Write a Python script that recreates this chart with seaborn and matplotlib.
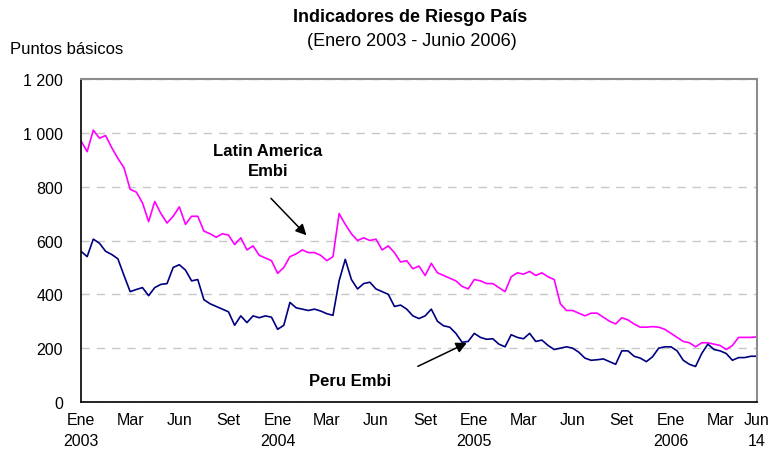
"""
Indicadores de Riesgo Pais: Latin America Embi vs Peru Embi (Ene 2003 - Jun 2006).
"""

import numpy as np
import pandas as pd
import matplotlib
matplotlib.use("Agg")
import matplotlib.pyplot as plt
import seaborn as sns

# ---------------------------------------------------------------------------
# Data (puntos basicos, ~8 obs per axis label)
# ---------------------------------------------------------------------------
LATAM = [970, 930, 1010, 980, 990, 945, 905, 870, 790, 780,
         740, 670, 745, 700, 665, 690, 725, 660, 690, 690,
         635, 625, 612, 625, 620, 585, 610, 565, 580, 545,
         535, 525, 478, 500, 540, 550, 565, 555, 555, 545,
         525, 540, 700, 660, 625, 600, 610, 600, 605, 565,
         580, 555, 520, 525, 495, 505, 470, 515, 480, 470,
         460, 450, 430, 420, 455, 450, 440, 440, 425, 410,
         465, 480, 475, 485, 470, 480, 465, 455, 365, 340,
         340, 330, 320, 330, 330, 315, 300, 290, 313, 305,
         290, 278, 278, 280, 278, 270, 255, 240, 225, 220,
         205, 220, 220, 215, 210, 195, 210, 240, 240, 240, 242]

PERU = [560, 540, 605, 590, 560, 548, 532, 470, 410, 418,
        425, 395, 425, 437, 440, 500, 510, 490, 450, 455,
        380, 365, 355, 345, 335, 285, 320, 295, 320, 313,
        320, 315, 270, 285, 370, 350, 345, 340, 345, 338,
        328, 322, 450, 530, 455, 420, 440, 445, 420, 410,
        400, 355, 360, 345, 320, 310, 320, 345, 300, 283,
        278, 255, 222, 225, 255, 240, 233, 235, 215, 205,
        250, 240, 235, 255, 225, 230, 210, 195, 200, 205,
        200, 185, 163, 155, 157, 160, 150, 140, 190, 190,
        170, 163, 150, 168, 200, 205, 205, 190, 155, 140,
        132, 180, 215, 195, 190, 180, 155, 165, 165, 170, 170]

X_TICKS  = [0, 8, 16, 24, 32, 40, 48, 56, 64, 72, 80, 88, 96, 104, 110]
X_LABELS = ["Ene\n2003", "Mar", "Jun", "Set", "Ene\n2004", "Mar", "Jun", "Set",
            "Ene\n2005", "Mar", "Jun", "Set", "Ene\n2006", "Mar", "Jun\n14"]
Y_TICKS  = [0, 200, 400, 600, 800, 1000, 1200]
Y_LABELS = ["0", "200", "400", "600", "800", "1 000", "1 200"]

COLORS = {"Latin America Embi": "#ff00ff", "Peru Embi": "#000080"}


def main():
    sns.set_style("white")
    plt.rcParams["font.family"] = ["Liberation Sans", "DejaVu Sans"]
    plt.rcParams["text.color"] = "black"
    plt.rcParams["xtick.color"] = "black"
    plt.rcParams["ytick.color"] = "black"
    plt.rcParams["xtick.labelcolor"] = "black"
    plt.rcParams["ytick.labelcolor"] = "black"

    df = pd.DataFrame({"obs": np.arange(len(LATAM)),
                       "Latin America Embi": LATAM,
                       "Peru Embi": PERU})
    long = df.melt(id_vars="obs", var_name="serie", value_name="pb")

    W, H = 776, 456
    fig = plt.figure(figsize=(W / 100, H / 100), dpi=100)
    ax = fig.add_axes([81 / W, 1 - 403 / H, 676 / W, 323 / H])

    sns.lineplot(data=long, x="obs", y="pb", hue="serie", palette=COLORS,
                 linewidth=1.2, legend=False, ax=ax)

    ax.set_xlim(0, len(LATAM) - 1)
    ax.set_ylim(0, 1200)
    ax.set_xticks(X_TICKS)
    ax.set_xticklabels(X_LABELS, linespacing=1.5)
    ax.set_yticks(Y_TICKS)
    ax.set_yticklabels(Y_LABELS)
    ax.set_xlabel("")
    ax.set_ylabel("")

    ax.yaxis.grid(True, linestyle=(0, (6, 5)), color="#c8c8c8", linewidth=1)
    ax.set_axisbelow(True)

    for side in ["left", "bottom"]:
        ax.spines[side].set_color("black")
        ax.spines[side].set_linewidth(1.2)
    for side in ["top", "right"]:
        ax.spines[side].set_color("#8c8c8c")
        ax.spines[side].set_linewidth(1.5)

    ax.tick_params(axis="y", length=4, width=1, direction="out", labelsize=11.5,
                   pad=9, colors="black")
    ax.tick_params(axis="x", length=4, width=1, direction="out", labelsize=11.5,
                   pad=3, colors="black")

    # annotations
    ax.text(30.4, 896, "Latin America\nEmbi", ha="center", va="center",
            fontsize=12, fontweight="bold", linespacing=1.4, color="black")
    ax.annotate("", xy=(37.0, 612), xytext=(30.6, 764),
                arrowprops=dict(arrowstyle="-|>", color="black", lw=1.1,
                                mutation_scale=16))
    ax.text(43.8, 81, "Peru Embi", ha="center", va="center",
            fontsize=12, fontweight="bold", color="black")
    ax.annotate("", xy=(63.2, 224), xytext=(54.4, 128),
                arrowprops=dict(arrowstyle="-|>", color="black", lw=1.1,
                                mutation_scale=16))

    fig.text(410 / W, 1 - 17 / H, "Indicadores de Riesgo País", ha="center",
             va="center", fontsize=13, fontweight="bold", color="black")
    fig.text(412 / W, 1 - 41 / H, "(Enero 2003 - Junio 2006)", ha="center",
             va="center", fontsize=13, color="black")
    fig.text(10 / W, 1 - 50 / H, "Puntos básicos", ha="left", va="center",
             fontsize=12, color="black")

    fig.savefig("out.png", dpi=100)
    plt.close(fig)


if __name__ == "__main__":
    main()
